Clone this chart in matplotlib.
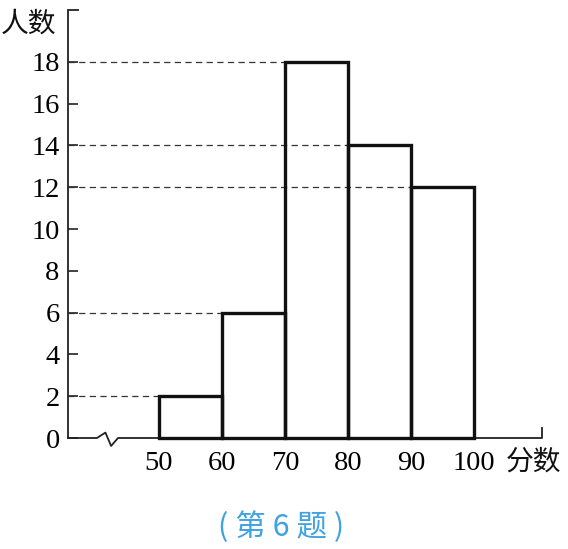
import numpy as np
from matplotlib import pyplot as plt

# data
edges = [50, 60, 70, 80, 90, 100]
counts = [2, 6, 18, 14, 12]
yticks = [0, 2, 4, 6, 8, 10, 12, 14, 16, 18]

serif = ['Liberation Serif', 'DejaVu Serif']
cjk = ['Noto Sans CJK SC', 'DejaVu Sans']

fig = plt.figure(figsize=(5.68, 5.49), dpi=100)
ax = fig.add_axes([68/568, 111/549, (542-68)/568, (438-10)/549])
x0, x1 = 35.56, 110.8
y1 = 20.48
ax.set_xlim(x0, x1)
ax.set_ylim(0, y1)
for s in ax.spines.values():
    s.set_visible(False)

lw_axis = 1.3
# y axis with top tick
ax.plot([x0, x0, x0 + 10/6.3], [0, y1, y1], color='#222222', lw=lw_axis,
        clip_on=False, solid_joinstyle='miter')
# x axis with break and end tick
bx = [x0, 40.16, 41.5, 42.4, 43.5, x1, x1]
by = [0, 0, 0.26, -0.38, 0, 0, 0.48]
ax.plot(bx, by, color='#222222', lw=lw_axis, clip_on=False)

# bars
for i, c in enumerate(counts):
    left = edges[i]
    ax.bar(left, c, width=edges[i+1]-left, align='edge', fill=False,
           edgecolor='#111111', linewidth=2.4, clip_on=False, zorder=3)
    # dashed guide from y axis to the bar's left edge
    ax.plot([x0, left], [c, c], color='#333333', lw=0.9,
            dashes=(5, 3.5), zorder=2)

ax.set_yticks(yticks)
ax.set_yticklabels([str(t) for t in yticks], family=serif, fontsize=20.5)
ax.tick_params(axis='y', direction='in', length=7, width=1.2, pad=6,
               color='#222222')
ax.set_xticks(edges)
ax.set_xticklabels([str(e) for e in edges], family=serif, fontsize=20.5)
ax.tick_params(axis='x', length=0, pad=9)

fig.text(1/568, 1 - 24/549, '人数', family=cjk, fontsize=20,
         va='center', ha='left', color='#111111')
fig.text(506/568, 1 - 462/549, '分数', family=cjk, fontsize=20,
         va='center', ha='left', color='#111111')
fig.text(281/568, 1 - 527/549, '( 第 6 题 )', family=cjk, fontsize=22,
         va='center', ha='center', color='#3fa2e2')

plt.savefig('out.png', dpi=100)
